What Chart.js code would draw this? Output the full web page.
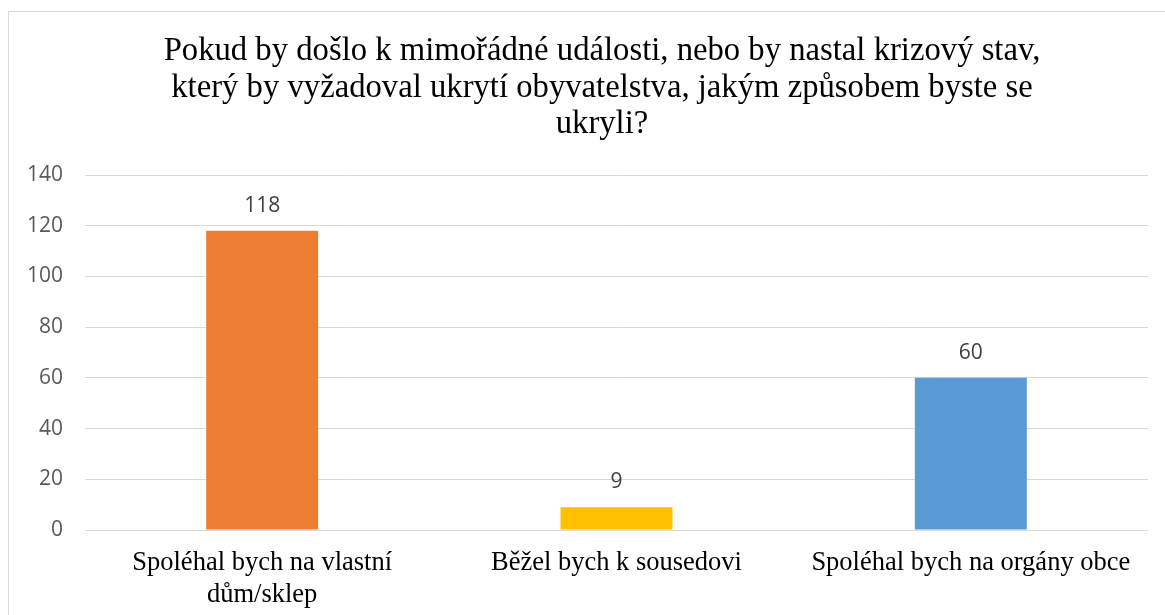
<!DOCTYPE html>
<html>
<head>
<meta charset="utf-8">
<script src="https://cdn.jsdelivr.net/npm/chart.js@4"></script>
<style>
  html, body { margin: 0; padding: 0; background: #ffffff; }
  #wrap { position: relative; width: 1165px; height: 615px; overflow: hidden; }
  #frame { position: absolute; left: 8px; top: 11px; width: 1200px; height: 700px; border: 1px solid #d9d9d9; box-sizing: border-box; }
  canvas { position: absolute; left: 0; top: 0; }
</style>
</head>
<body>
<div id="wrap">
  <div id="frame"></div>
  <canvas id="c" width="1165" height="615"></canvas>
</div>
<script>
const titleLines = [
  "Pokud by došlo k mimořádné události, nebo by nastal krizový stav,",
  "který by vyžadoval ukrytí obyvatelstva, jakým způsobem byste se",
  "ukryli?"
];
const categories = [
  ["Spoléhal bych na vlastní", "dům/sklep"],
  "Běžel bych k sousedovi",
  "Spoléhal bych na orgány obce"
];
const values = [118, 9, 60];
const barColors = ["#ED7D31", "#FFC000", "#5B9BD5"];
const yMin = 0, yMax = 140, yStep = 20;

const titleDraw = {
  id: 'titleDraw',
  afterDraw(chart) {
    const ctx = chart.ctx;
    ctx.save();
    ctx.font = '32.7px "Liberation Serif", "Times New Roman", serif';
    ctx.fillStyle = '#000000';
    ctx.textAlign = 'center';
    ctx.textBaseline = 'alphabetic';
    const baselines = [60, 96.5, 133];
    titleLines.forEach((t, i) => ctx.fillText(t, 602, baselines[i]));
    ctx.restore();
  }
};

const dataLabels = {
  id: 'dataLabels',
  afterDatasetsDraw(chart) {
    const ctx = chart.ctx;
    const meta = chart.getDatasetMeta(0);
    ctx.save();
    ctx.font = '21px "Open Sans", sans-serif';
    ctx.fillStyle = '#404040';
    ctx.textAlign = 'center';
    ctx.textBaseline = 'middle';
    meta.data.forEach((bar, i) => {
      ctx.fillText(String(values[i]), bar.x, bar.y - 25);
    });
    ctx.restore();
  }
};

new Chart(document.getElementById('c'), {
  type: 'bar',
  data: {
    labels: categories,
    datasets: [{
      data: values,
      backgroundColor: barColors,
      borderWidth: 0,
      barPercentage: 0.632,
      categoryPercentage: 0.5
    }]
  },
  options: {
    responsive: false,
    animation: false,
    devicePixelRatio: 1,
    layout: { padding: { left: 0, right: 17, top: 175, bottom: 0 } },
    plugins: {
      legend: { display: false },
      tooltip: { enabled: false },
      title: { display: false }
    },
    scales: {
      x: {
        grid: { display: false, drawTicks: false },
        border: { display: false },
        ticks: {
          color: '#000000',
          font: { family: '"Liberation Serif", "Times New Roman", serif', size: 26.5, lineHeight: 32/26.5 },
          padding: 17,
          maxRotation: 0,
          autoSkip: false
        },
        afterFit(scale) { scale.height = 85; }
      },
      y: {
        min: yMin,
        max: yMax,
        grid: { color: '#d9d9d9', lineWidth: 1, drawTicks: false },
        border: { display: false },
        ticks: {
          stepSize: yStep,
          color: '#595959',
          font: { family: '"Open Sans", sans-serif', size: 21 },
          padding: 22
        },
        afterFit(scale) { scale.width = 85; }
      }
    }
  },
  plugins: [dataLabels, titleDraw]
});
</script>
</body>
</html>
